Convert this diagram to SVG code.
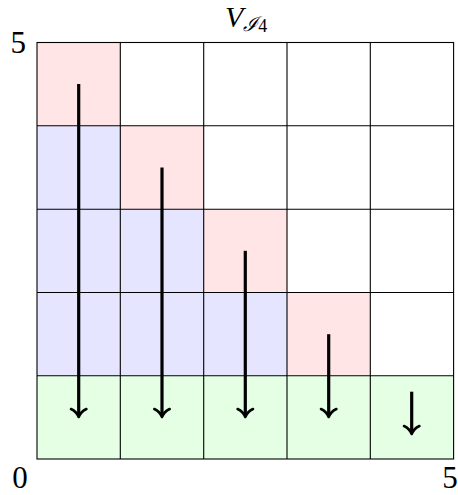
<svg xmlns="http://www.w3.org/2000/svg" width="458" height="495" viewBox="0 0 458 495">
<style>
.r{fill:#ffe5e5}.b{fill:#e5e5ff}.g{fill:#e5ffe5}
.grid{stroke:#000;stroke-width:1.1;fill:none}
.lbl{font-family:"Liberation Serif","DejaVu Serif",serif;font-size:31px;fill:#000}
.arr{stroke:#000;stroke-width:3.2;fill:none}
.hd{stroke:#000;stroke-width:2.6;fill:none;stroke-linecap:round;stroke-linejoin:round}
</style>
<g id="cells">
<rect class="r" x="37" y="42.5" width="83.3" height="83.3"/>
<rect class="b" x="37" y="125.8" width="83.3" height="250"/>
<rect class="r" x="120.3" y="125.8" width="83.4" height="83.4"/>
<rect class="b" x="120.3" y="209.2" width="83.4" height="166.6"/>
<rect class="r" x="203.7" y="209.2" width="83.3" height="83.3"/>
<rect class="b" x="203.7" y="292.5" width="83.3" height="83.3"/>
<rect class="r" x="287" y="292.5" width="83.3" height="83.3"/>
<rect class="g" x="37" y="375.8" width="416.6" height="83.2"/>
</g>
<g id="grid" class="grid">
<rect x="37" y="42.5" width="416.6" height="416.5"/>
<path d="M120.3 42.5V459M203.7 42.5V459M287 42.5V459M370.3 42.5V459M37 125.8H453.6M37 209.2H453.6M37 292.5H453.6M37 375.8H453.6"/>
</g>
<g id="connectors">
<path class="arr" d="M78.7 84V415"/>
<path class="hd" d="M71 409Q76.5 411.5 78.7 417Q80.9 411.5 86.4 409"/>
<path class="arr" d="M162 167.5V415"/>
<path class="hd" d="M154.3 409Q159.8 411.5 162 417Q164.2 411.5 169.7 409"/>
<path class="arr" d="M245.3 250.8V415"/>
<path class="hd" d="M237.6 409Q243.1 411.5 245.3 417Q247.5 411.5 253 409"/>
<path class="arr" d="M328.7 334.2V415"/>
<path class="hd" d="M321 409Q326.5 411.5 328.7 417Q330.9 411.5 336.4 409"/>
<path class="arr" d="M411.7 391.7V432"/>
<path class="hd" d="M404 426Q409.5 428.5 411.7 434Q413.9 428.5 419.4 426"/>
</g>
<g id="labels">
<text class="lbl" x="18.3" y="52.5" text-anchor="middle">5</text>
<text class="lbl" x="20" y="488" text-anchor="middle">0</text>
<text class="lbl" x="450" y="488" text-anchor="middle">5</text>
<text class="lbl" x="225" y="27" style="font-style:italic;font-size:30px">V<tspan dy="4" style="font-size:20px;font-family:'DejaVu Serif',serif">ℐ</tspan><tspan dy="1" style="font-size:18px;font-style:normal">4</tspan></text>
</g>
</svg>
